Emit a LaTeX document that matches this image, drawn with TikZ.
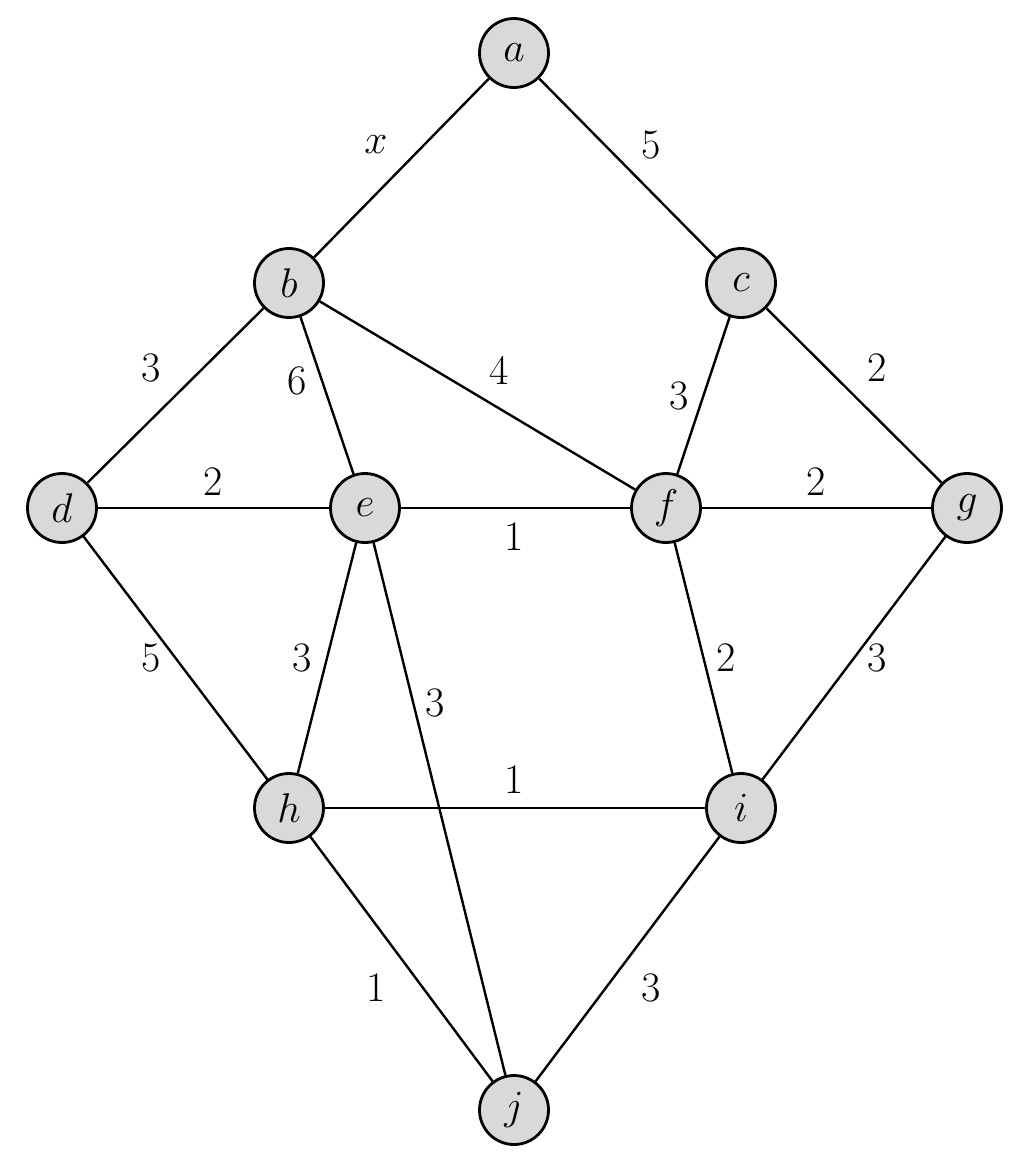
\documentclass[tikz,border=0pt]{standalone}
\begin{document}
\begin{tikzpicture}[x=0.5pt,y=-0.5pt,
  vert/.style={circle,draw=black,line width=1.4pt,fill=black!15,minimum size=34.5pt,inner sep=0pt,font=\fontsize{21}{25}\selectfont},
  edge/.style={line width=1.2pt},
  wlab/.style={inner sep=0pt,font=\fontsize{21}{25}\selectfont}]
\useasboundingbox (0,0) rectangle (1027,1158);
\node[vert] (a) at (514,53) {$a$};
\node[vert] (b) at (289,283) {$b$};
\node[vert] (c) at (741,283) {$c$};
\node[vert] (d) at (62,508) {$d$};
\node[vert] (e) at (365,508) {$e$};
\node[vert] (f) at (666,508) {$f$};
\node[vert] (g) at (967,508) {$g$};
\node[vert] (h) at (289,808) {$h$};
\node[vert] (i) at (741,808) {$i$};
\node[vert] (j) at (514,1110) {$j$};
\draw[edge] (a) -- (b);
\draw[edge] (a) -- (c);
\draw[edge] (b) -- (d);
\draw[edge] (b) -- (e);
\draw[edge] (b) -- (f);
\draw[edge] (c) -- (f);
\draw[edge] (c) -- (g);
\draw[edge] (d) -- (e);
\draw[edge] (e) -- (f);
\draw[edge] (f) -- (g);
\draw[edge] (d) -- (h);
\draw[edge] (e) -- (h);
\draw[edge] (e) -- (j);
\draw[edge] (f) -- (i);
\draw[edge] (g) -- (i);
\draw[edge] (h) -- (i);
\draw[edge] (h) -- (j);
\draw[edge] (i) -- (j);
\node[wlab] (lab) at (376,145) {$x$};
\node[wlab] (lac) at (651,145) {5};
\node[wlab] (lbd) at (151,368) {3};
\node[wlab] (lbe) at (297,381) {6};
\node[wlab] (lbf) at (499,370) {4};
\node[wlab] (lcf) at (679,396) {3};
\node[wlab] (lcg) at (877,368) {2};
\node[wlab] (lde) at (213,482) {2};
\node[wlab] (lef) at (514,537) {1};
\node[wlab] (lfg) at (816,482) {2};
\node[wlab] (ldh) at (151,658) {5};
\node[wlab] (leh) at (302,658) {3};
\node[wlab] (lej) at (435,703) {3};
\node[wlab] (lfi) at (726,658) {2};
\node[wlab] (lgi) at (877,658) {3};
\node[wlab] (lhi) at (514,780) {1};
\node[wlab] (lhj) at (376,988) {1};
\node[wlab] (lij) at (651,988) {3};
\end{tikzpicture}
\end{document}
